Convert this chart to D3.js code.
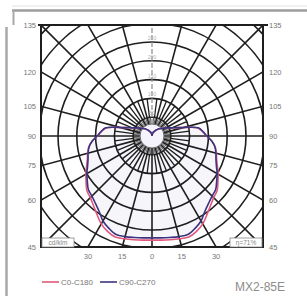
<!DOCTYPE html>
<html>
<head>
<meta charset="utf-8">
<script src="https://cdn.jsdelivr.net/npm/d3@7"></script>
<style>
  body { margin: 0; background: #fff; }
  svg { display: block; font-family: "Liberation Sans", Arial, sans-serif; }
</style>
</head>
<body>
<div id="chart"></div>
<script>
// polar intensity data, cd/klm, gamma angle from nadir
var angles = [0, 5, 10, 15, 20, 25, 30, 35, 40, 45, 50, 55, 60, 65, 70, 75, 80, 85, 90,
  95, 100, 105, 110, 115, 120, 125, 130, 135, 140, 145, 150, 155, 160, 165, 170, 175, 180];
var c0c180 = [277, 278, 280, 283, 286, 280, 270, 255, 242, 232, 226, 214, 203, 192, 183, 177, 171, 160, 145,
  135, 124, 88, 64, 51, 43, 36, 31, 27, 23, 19, 16, 13, 11, 8, 5, 3, 0];
var c90c270 = [271, 272, 274, 277, 279, 271, 261, 245, 234, 226, 221, 210, 200, 189, 181, 176, 170, 160, 146,
  136, 125, 88, 64, 51, 43, 36, 31, 27, 23, 19, 16, 13, 11, 8, 5, 3, 0];
var sideTicks = [135, 120, 105, 90, 75, 60, 45];
var bottomTicks = [-30, -15, 0, 15, 30];
var ringValues = [50, 100, 150, 200, 250, 300, 350, 400];
var ringLabels = [50, 100, 150, 200, 250];

var chart_width = 307;
var chart_height = 296;
var cx = 152, cy = 136, half = 111;

var svg = d3.select('#chart')
  .append('svg')
  .attr('width', chart_width)
  .attr('height', chart_height);

// outer photo frame
svg.append('line').attr('x1', 12).attr('x2', 307).attr('y1', 6).attr('y2', 6)
  .attr('stroke', '#e2e2e2').attr('stroke-width', 1);
svg.append('line').attr('x1', 12).attr('x2', 307).attr('y1', 10.5).attr('y2', 10.5)
  .attr('stroke', '#9c9c9c').attr('stroke-width', 2.5);
svg.append('line').attr('x1', 13.5).attr('x2', 13.5).attr('y1', 10).attr('y2', 25)
  .attr('stroke', '#a8a8a8').attr('stroke-width', 2);
svg.append('line').attr('x1', 6.5).attr('x2', 6.5).attr('y1', 27).attr('y2', 296)
  .attr('stroke', '#a8a8a8').attr('stroke-width', 2.5);

// scales
var rScale = d3.scaleLinear().domain([0, 50]).range([0, 18.8]);
var aScale = d3.scaleLinear().domain([0, 180]).range([0, Math.PI]);
var rad = d => d * Math.PI / 180;

var defs = svg.append('defs');
defs.append('clipPath').attr('id', 'plotClip')
  .append('rect')
  .attr('x', cx - half).attr('y', cy - half)
  .attr('width', half * 2).attr('height', half * 2);

var plot = svg.append('g').attr('clip-path', 'url(#plotClip)')
  .append('g').attr('transform', 'translate(' + cx + ',' + cy + ')');

// closed curve: left half 180 -> 0, right half 0 -> 180
function curvePoints(vals) {
  var left = angles.map((a, i) => ({ a: Math.PI + aScale(a), v: vals[i] })).reverse();
  var right = angles.map((a, i) => ({ a: Math.PI - aScale(a), v: vals[i] })).slice(1);
  return left.concat(right);
}
var radial = d3.lineRadial()
  .angle(d => d.a)
  .radius(d => rScale(d.v))
  .curve(d3.curveCatmullRom);

// faint fill inside the light distribution
plot.append('path')
  .attr('d', radial(curvePoints(c90c270)))
  .attr('fill', '#ece8f5')
  .attr('opacity', 0.45);

// rings
plot.selectAll('circle.ring')
  .data(ringValues)
  .enter()
  .append('circle')
  .attr('class', 'ring')
  .attr('r', d => rScale(d))
  .attr('fill', 'none')
  .attr('stroke', '#1e1e1e')
  .attr('stroke-width', 1.6);

var r0 = 12;
// short ticks every 5 deg up to the first ring
plot.selectAll('line.fine')
  .data(d3.range(0, 360, 5).filter(d => d % 15 !== 0))
  .enter()
  .append('line')
  .attr('class', 'fine')
  .attr('x1', d => r0 * Math.sin(rad(d)))
  .attr('y1', d => r0 * Math.cos(rad(d)))
  .attr('x2', d => rScale(50) * Math.sin(rad(d)))
  .attr('y2', d => rScale(50) * Math.cos(rad(d)))
  .attr('stroke', '#3a3a3a')
  .attr('stroke-width', 0.8);

// half-step spokes between first and second ring
plot.selectAll('line.mid')
  .data(d3.range(7.5, 360, 15))
  .enter()
  .append('line')
  .attr('class', 'mid')
  .attr('x1', d => rScale(50) * Math.sin(rad(d)))
  .attr('y1', d => rScale(50) * Math.cos(rad(d)))
  .attr('x2', d => rScale(100) * Math.sin(rad(d)))
  .attr('y2', d => rScale(100) * Math.cos(rad(d)))
  .attr('stroke', '#1e1e1e')
  .attr('stroke-width', 1.3);

// main spokes every 15 deg
plot.selectAll('line.spoke')
  .data(d3.range(0, 360, 15).filter(d => d !== 180))
  .enter()
  .append('line')
  .attr('class', 'spoke')
  .attr('x1', d => r0 * Math.sin(rad(d)))
  .attr('y1', d => r0 * Math.cos(rad(d)))
  .attr('x2', d => 170 * Math.sin(rad(d)))
  .attr('y2', d => 170 * Math.cos(rad(d)))
  .attr('stroke', '#1e1e1e')
  .attr('stroke-width', 1.6);

// upward axis (lighter) with intensity labels
plot.append('line')
  .attr('x1', 0).attr('y1', -r0).attr('x2', 0).attr('y2', -170)
  .attr('stroke', '#8a8a8a').attr('stroke-width', 1.2)
  .attr('stroke-dasharray', '5,2');
plot.selectAll('text.rl')
  .data(ringLabels)
  .enter()
  .append('text')
  .attr('class', 'rl')
  .attr('x', 0)
  .attr('y', d => -rScale(d) - 2)
  .attr('text-anchor', 'middle')
  .attr('font-size', 5)
  .attr('fill', '#b0b0b0')
  .text(d => d);

// centre disc
plot.append('circle')
  .attr('r', r0)
  .attr('fill', '#f5f3fb')
  .attr('stroke', '#6a6a6a')
  .attr('stroke-width', 1);

// curves
plot.append('path')
  .attr('d', radial(curvePoints(c0c180)))
  .attr('fill', 'none')
  .attr('stroke', '#e0587a')
  .attr('stroke-width', 1.6);
plot.append('path')
  .attr('d', radial(curvePoints(c90c270)))
  .attr('fill', 'none')
  .attr('stroke', '#3b3580')
  .attr('stroke-width', 1.6);

// plot frame
svg.append('rect')
  .attr('x', cx - half).attr('y', cy - half)
  .attr('width', half * 2).attr('height', half * 2)
  .attr('fill', 'none')
  .attr('stroke', '#1e1e1e')
  .attr('stroke-width', 2);
svg.append('line')
  .attr('x1', cx - half - 3).attr('x2', cx + half + 5)
  .attr('y1', cy - half).attr('y2', cy - half)
  .attr('stroke', '#1e1e1e').attr('stroke-width', 2);

// side labels at the frame edges
var sideY = d => cy - half * Math.tan(rad(d - 90));
svg.selectAll('text.left')
  .data(sideTicks)
  .enter()
  .append('text')
  .attr('x', cx - half - 5)
  .attr('y', d => sideY(d) + 2.7)
  .attr('text-anchor', 'end')
  .attr('font-size', 7.5)
  .attr('fill', '#777')
  .text(d => d);
svg.selectAll('text.right')
  .data(sideTicks)
  .enter()
  .append('text')
  .attr('x', cx + half + 6)
  .attr('y', d => sideY(d) + 2.7)
  .attr('font-size', 7.5)
  .attr('fill', '#777')
  .text(d => d);
svg.selectAll('text.bottom')
  .data(bottomTicks)
  .enter()
  .append('text')
  .attr('x', d => cx + half * Math.tan(rad(d)))
  .attr('y', cy + half + 12)
  .attr('text-anchor', 'middle')
  .attr('font-size', 7.5)
  .attr('fill', '#777')
  .text(d => Math.abs(d));

// corner boxes
[{ x: cx - half + 1, t: 'cd/klm' }, { x: cx + half - 33, t: 'η=71%' }].forEach(b => {
  svg.append('rect')
    .attr('x', b.x).attr('y', cy + half - 9)
    .attr('width', 32).attr('height', 9)
    .attr('fill', '#fff').attr('stroke', '#888').attr('stroke-width', 0.8);
  svg.append('text')
    .attr('x', b.x + 16).attr('y', cy + half - 2)
    .attr('text-anchor', 'middle')
    .attr('font-size', 6.5)
    .attr('fill', '#888')
    .text(b.t);
});

// legend
var legend = [{ name: 'C0-C180', color: '#e0587a', x: 42 }, { name: 'C90-C270', color: '#3b3580', x: 100 }];
legend.forEach(l => {
  svg.append('line')
    .attr('x1', l.x).attr('x2', l.x + 17)
    .attr('y1', 282).attr('y2', 282)
    .attr('stroke', l.color).attr('stroke-width', 1.6);
  svg.append('text')
    .attr('x', l.x + 19).attr('y', 285)
    .attr('font-size', 8)
    .attr('fill', '#777')
    .text(l.name);
});

// model name
svg.append('text')
  .attr('x', 285).attr('y', 291)
  .attr('text-anchor', 'end')
  .attr('font-size', 12)
  .attr('fill', '#8c8c8c')
  .text('MX2-85E');
</script>
</body>
</html>
